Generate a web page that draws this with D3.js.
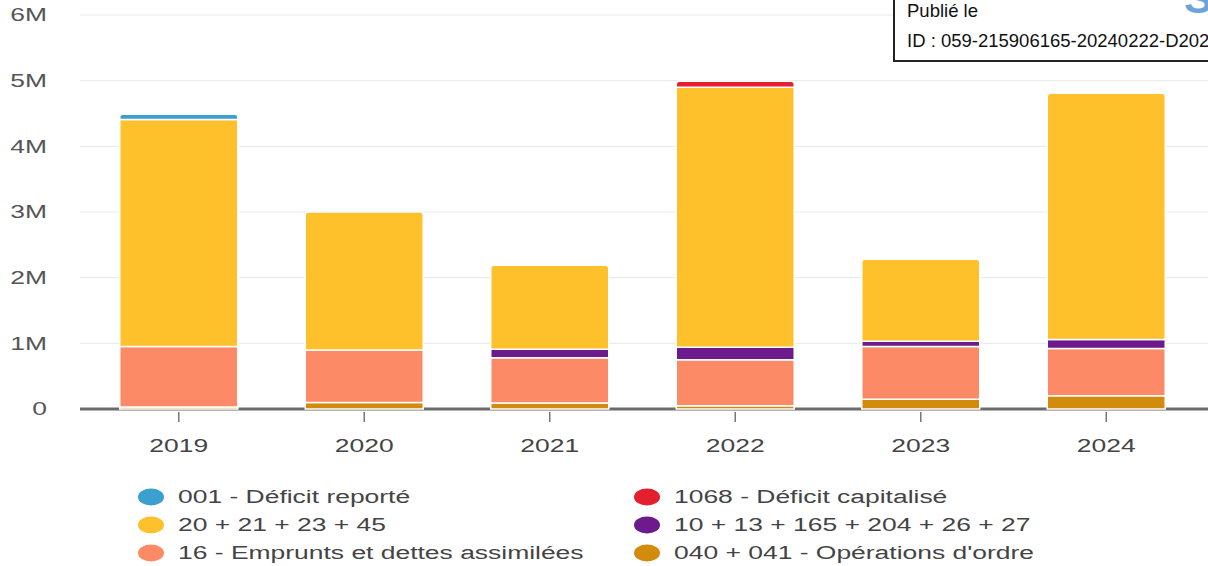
<!DOCTYPE html>
<html>
<head>
<meta charset="utf-8">
<script src="https://cdn.jsdelivr.net/npm/d3@7"></script>
<style>
  html, body { margin: 0; padding: 0; background: #fff; }
  svg { display: block; font-family: "Liberation Sans", Arial, sans-serif; }
</style>
</head>
<body>
<svg id="chart" width="1208" height="566"></svg>
<script>
// Years on the x axis
const years = ["2019", "2020", "2021", "2022", "2023", "2024"];

// Series, in stacking order from the bottom up (values in millions of euros)
const seriesNames = [
  "040 + 041 - Opérations d'ordre",
  "16 - Emprunts et dettes assimilées",
  "10 + 13 + 165 + 204 + 26 + 27",
  "20 + 21 + 23 + 45",
  "1068 - Déficit capitalisé",
  "001 - Déficit reporté"
];
const ordre      = [0.03, 0.10, 0.09, 0.05, 0.15, 0.20];
const emprunts   = [0.92, 0.80, 0.69, 0.70, 0.80, 0.72];
const dotations  = [0.00, 0.00, 0.13, 0.19, 0.08, 0.14];
const equipement = [3.46, 2.10, 1.28, 3.96, 1.25, 3.75];
const capitalise = [0.00, 0.00, 0.00, 0.09, 0.00, 0.00];
const reporte    = [0.08, 0.00, 0.00, 0.00, 0.00, 0.00];
const seriesValues = [ordre, emprunts, dotations, equipement, capitalise, reporte];
const seriesColors = ["#d38b0e", "#fd8a66", "#6c1a8c", "#fec12b", "#e5202e", "#3b9fd0"];

// Y axis tick labels
const yTicks = [0, 1, 2, 3, 4, 5, 6];
const yTickLabels = ["0", "1M", "2M", "3M", "4M", "5M", "6M"];

// Legend layout: two columns, three rows
const legendOrder = [
  { name: "001 - Déficit reporté", col: 0, row: 0 },
  { name: "20 + 21 + 23 + 45", col: 0, row: 1 },
  { name: "16 - Emprunts et dettes assimilées", col: 0, row: 2 },
  { name: "1068 - Déficit capitalisé", col: 1, row: 0 },
  { name: "10 + 13 + 165 + 204 + 26 + 27", col: 1, row: 1 },
  { name: "040 + 041 - Opérations d'ordre", col: 1, row: 2 }
];

// The chart is drawn horizontally widened: text and legend markers are stretched
const stretch = 1.47;
const svg = d3.select("#chart");

function placeText(sel, px, py) {
  return sel.attr("transform", (d, i) => `translate(${px(d, i)},${py(d, i)}) scale(${stretch},1)`);
}

const x = d3.scaleBand().domain(years).range([86, 1199]).paddingInner(0.364).paddingOuter(0.182);
const y = d3.scaleLinear().domain([0, 6]).range([409, 15]);

// Grid lines
svg.append("g").selectAll("line").data(yTicks.filter(d => d > 0)).join("line")
  .attr("x1", 80).attr("x2", 1208)
  .attr("y1", d => y(d)).attr("y2", d => y(d))
  .attr("stroke", "#ececec").attr("stroke-width", 1.2);

// Y labels
placeText(svg.append("g").selectAll("text").data(yTicks).join("text"), () => 47, d => y(d))
  .attr("dy", "0.35em")
  .attr("text-anchor", "end")
  .attr("font-size", 18).attr("fill", "#555")
  .text((d, i) => yTickLabels[i]);

// Zero baseline
svg.append("line")
  .attr("x1", 80).attr("x2", 1208)
  .attr("y1", y(0)).attr("y2", y(0))
  .attr("stroke", "#6b6b6b").attr("stroke-width", 3);

// Stack data
const table = years.map((yr, i) => {
  const row = { year: yr };
  seriesNames.forEach((n, k) => row[n] = seriesValues[k][i]);
  return row;
});
const stacked = d3.stack().keys(seriesNames)(table);

// Index of the top-most non-empty segment per year
const topIndex = years.map((yr, i) => {
  let t = 0;
  seriesValues.forEach((vals, k) => { if (vals[i] > 0) t = k; });
  return t;
});

function segPath(x0, w, yTop, yBot, r) {
  r = Math.min(r, (yBot - yTop) / 2, w / 2);
  return `M${x0},${yBot}V${yTop + r}Q${x0},${yTop} ${x0 + r},${yTop}H${x0 + w - r}Q${x0 + w},${yTop} ${x0 + w},${yTop + r}V${yBot}Z`;
}

const bars = svg.append("g");
stacked.forEach((layer, k) => {
  bars.append("g").selectAll("path").data(layer.filter(d => d[1] - d[0] > 0)).join("path")
    .attr("d", d => {
      const i = years.indexOf(d.data.year);
      const r = topIndex[i] === k ? 3 : 0;
      return segPath(x(d.data.year), x.bandwidth(), y(d[1]), y(d[0]), r);
    })
    .attr("fill", seriesColors[k])
    .attr("stroke", "#fff").attr("stroke-width", 1.5);
});

// X ticks and labels
const xa = svg.append("g");
xa.selectAll("line").data(years).join("line")
  .attr("x1", d => x(d) + x.bandwidth() / 2).attr("x2", d => x(d) + x.bandwidth() / 2)
  .attr("y1", 412).attr("y2", 422)
  .attr("stroke", "#777").attr("stroke-width", 1.5);
placeText(xa.selectAll("text").data(years).join("text"), d => x(d) + x.bandwidth() / 2, () => 452)
  .attr("text-anchor", "middle")
  .attr("font-size", 18).attr("fill", "#444")
  .text(d => d);

// Legend
const legend = svg.append("g");
const colX = [151, 647];
const rowY = [497, 525, 553];
legendOrder.forEach(item => {
  const k = seriesNames.indexOf(item.name);
  legend.append("ellipse")
    .attr("cx", colX[item.col]).attr("cy", rowY[item.row])
    .attr("rx", 13).attr("ry", 8.5)
    .attr("fill", seriesColors[k]);
  legend.append("text")
    .attr("transform", `translate(${colX[item.col] + 27},${rowY[item.row]}) scale(${stretch},1)`)
    .attr("dy", "0.36em")
    .attr("font-size", 18).attr("fill", "#444")
    .text(item.name);
});

// Publication stamp in the top-right corner
const stamp = svg.append("g");
stamp.append("rect")
  .attr("x", 894).attr("y", -5).attr("width", 330).attr("height", 66)
  .attr("fill", "#fff").attr("stroke", "#222").attr("stroke-width", 2);
stamp.append("text")
  .attr("x", 1184).attr("y", 13)
  .attr("font-size", 42).attr("font-weight", "bold").attr("fill", "#6aa4dc")
  .text("S");
stamp.append("text")
  .attr("x", 907).attr("y", 17)
  .attr("font-size", 18.5).attr("fill", "#111")
  .text("Publié le");
stamp.append("text")
  .attr("x", 907).attr("y", 47)
  .attr("font-size", 18.5).attr("fill", "#111")
  .text("ID : 059-215906165-20240222-D2024");
</script>
</body>
</html>
